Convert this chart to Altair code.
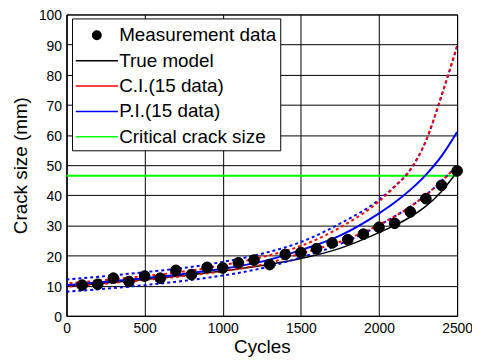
import altair as alt
import pandas as pd

# ---- data ----
cycles = [0, 250, 500, 750, 1000, 1250, 1500, 1750, 2000, 2100, 2200, 2300, 2400, 2500]
true_model = [9.8, 10.9, 12.1, 13.4, 14.9, 16.7, 19.0, 22.4, 27.6, 30.0, 32.8, 36.4, 41.3, 47.8]
median = [10.2, 11.3, 12.5, 13.9, 15.6, 18.0, 21.8, 26.6, 34.0, 37.6, 41.8, 46.8, 53.0, 61.0]
pi_upper = [12.1, 13.2, 14.5, 15.9, 17.9, 20.6, 24.5, 30.6, 38.5, 43.0, 48.5, 58.0, 73.0, 89.5]
ci_upper = [10.7, 11.9, 13.2, 14.7, 16.8, 19.5, 23.2, 29.3, 38.0, 42.8, 48.4, 58.0, 73.0, 89.5]
ci_lower = [9.7, 10.7, 11.9, 13.2, 14.8, 17.0, 20.7, 24.6, 30.2, 33.0, 36.2, 40.1, 44.7, 49.8]
pi_lower = [8.0, 9.0, 10.2, 11.6, 13.4, 15.8, 19.4, 23.8, 30.0, 33.0, 36.2, 40.1, 44.7, 49.8]

meas_cycles = [100, 200, 300, 400, 500, 600, 700, 800, 900, 1000, 1100, 1200, 1300,
               1400, 1500, 1600, 1700, 1800, 1900, 2000, 2100, 2200, 2300, 2400, 2500]
meas_values = [10.2, 10.5, 12.5, 11.4, 13.2, 12.5, 15.1, 13.7, 16.1, 15.9, 17.6, 18.5, 17.0,
               20.4, 21.0, 22.3, 24.2, 25.3, 27.1, 29.4, 30.7, 34.5, 38.9, 43.3, 48.1]
critical_size = 46.5

series_names = ["Measurement data", "True model", "C.I.(15 data)", "P.I.(15 data)", "Critical crack size"]
series_colors = ["#000000", "#000000", "#ff0000", "#0000ff", "#00ff00"]

FONT = "Liberation Sans"
circle_path = "M-0.34,0A0.34,0.34 0 1,0 0.34,0A0.34,0.34 0 1,0 -0.34,0Z"
line_path = "M-1.7,0L1.7,0"
series_shapes = [circle_path, line_path, line_path, line_path, line_path]

# ---- tables ----
curves = {
    "true": true_model, "median": median, "pi_upper": pi_upper, "ci_upper": ci_upper,
    "ci_lower": ci_lower, "pi_lower": pi_lower,
}
rows = []
for name, vals in curves.items():
    for c, v in zip(cycles, vals):
        rows.append({"cycles": c, "value": v, "curve": name})
lines_df = pd.DataFrame(rows)
meas_df = pd.DataFrame({"cycles": meas_cycles, "value": meas_values, "series": "Measurement data"})
crit_df = pd.DataFrame({"value": [critical_size]})

x_enc = alt.X("cycles:Q", scale=alt.Scale(domain=[0, 2500], nice=False),
              axis=alt.Axis(title="Cycles", values=list(range(0, 2501, 500)), labelFlush=False,
                            format="d", labelPadding=6, titlePadding=2))
y_enc = alt.Y("value:Q", scale=alt.Scale(domain=[0, 100], nice=False),
              axis=alt.Axis(title="Crack size (mm)", values=list(range(0, 101, 10)),
                            format="d", labelPadding=5, labelOffset=1.5, titlePadding=8))

legend = alt.Legend(title=None, orient="none", legendX=5.6, legendY=4,
                    fillColor="white", strokeColor="black", padding=3.5, cornerRadius=0,
                    symbolSize=625, symbolStrokeWidth=1.5, symbolOffset=8,
                    labelFont=FONT, labelFontSize=19, labelColor="black", labelOffset=9,
                    rowPadding=1.6)

base_lines = alt.Chart(lines_df)


def curve(name, color, width, dash=None, offset=0):
    kw = dict(color=color, strokeWidth=width, interpolate="monotone", clip=True)
    if dash:
        kw["strokeDash"] = dash
        kw["strokeDashOffset"] = offset
    return base_lines.mark_line(**kw).encode(x=x_enc, y=y_enc).transform_filter(
        alt.datum.curve == name)


crit = alt.Chart(crit_df).mark_rule(color="#00ff00", strokeWidth=2).encode(y=y_enc)

points = alt.Chart(meas_df).mark_point(filled=True, size=1000, opacity=1, strokeWidth=1).encode(
    x=x_enc, y=y_enc,
    fill=alt.Fill("series:N", scale=alt.Scale(domain=series_names, range=series_colors), legend=legend),
    stroke=alt.Stroke("series:N", scale=alt.Scale(domain=series_names, range=series_colors), legend=legend),
    shape=alt.Shape("series:N", scale=alt.Scale(domain=series_names, range=series_shapes), legend=legend),
)

chart = alt.layer(
    crit,
    curve("true", "black", 1.5),
    curve("pi_lower", "#0000ff", 2, [3, 3], 0),
    curve("ci_lower", "#ff0000", 2, [3, 3], 3),
    curve("pi_upper", "#0000ff", 2, [3, 3], 0),
    curve("ci_upper", "#ff0000", 2, [3, 3], 3),
    curve("median", "#0000ff", 2),
    points,
).properties(
    width=394, height=304,
    autosize=alt.AutoSizeParams(type="none"),
    padding={"left": 59, "top": 5, "right": 15, "bottom": 43},
).configure_view(stroke="black", strokeWidth=1).configure_axis(
    grid=True, gridColor="black", gridOpacity=1, gridWidth=1,
    domainColor="black", ticks=False,
    labelFont=FONT, labelFontSize=14, labelColor="black",
    titleFont=FONT, titleFontSize=19, titleColor="black", titleFontWeight="normal",
)

chart.save("out.html", embed_options={"renderer": "svg", "actions": False})
